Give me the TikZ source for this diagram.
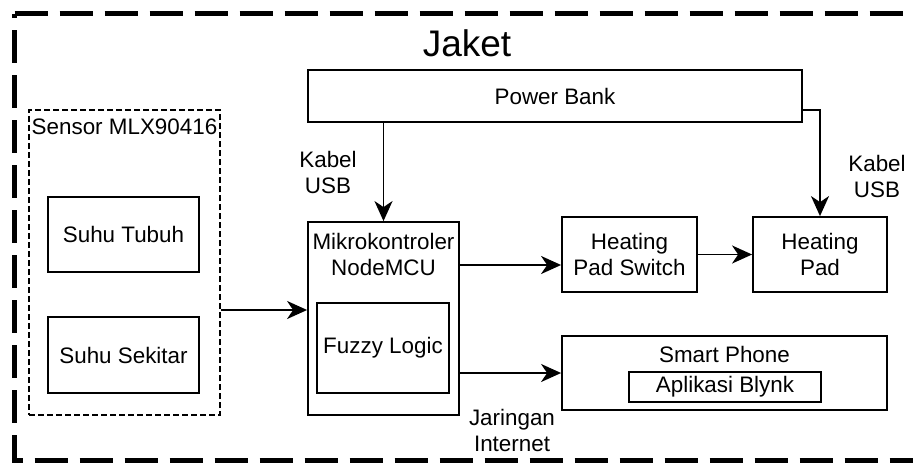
\documentclass[tikz,border=0pt]{standalone}
\usepackage{fontspec}
\setmainfont{Liberation Sans}
\usetikzlibrary{arrows.meta}
\begin{document}
\begin{tikzpicture}[x=1pt,y=-1pt,
    font=\fontsize{22.4}{26}\selectfont,
    blok/.style={draw,line width=1.8pt,inner sep=0pt,align=center},
    grup/.style={draw,line width=1.5pt,dash pattern=on 6pt off 3pt,inner sep=0pt},
    arr/.style={-{Stealth[length=20pt,width=18pt,inset=6pt]},line width=1.8pt},
    bingkai/.style={line width=5pt,dash pattern=on 33pt off 12pt}]
      \useasboundingbox (0,0) rectangle (913,463);
      \clip (0,0) rectangle (913,463);
      % frame of the jacket
      \draw[bingkai] (14.5,13.5) -- (940,13.5);
      \draw[bingkai,dash phase=28.5pt] (14.5,13.5) -- (14.5,460) -- (940,460);
      \node[font=\fontsize{37}{44}\selectfont] (jaket) at (467,43) {Jaket};
      % blocks
      \node[blok,minimum width=494pt,minimum height=52pt] (powerbank) at (555,96) {Power Bank};
      \node[grup,minimum width=191pt,minimum height=305pt] (sensor) at (124.5,262.5) {};
      \node (sensortitle) at (124.5,127) {Sensor MLX90416};
      \node[blok,minimum width=151pt,minimum height=75pt] (tubuh) at (123.5,234.5) {Suhu Tubuh};
      \node[blok,minimum width=151pt,minimum height=76pt] (sekitar) at (123.5,355) {Suhu Sekitar};
      \node[blok,minimum width=151pt,minimum height=193pt] (mcu) at (383.5,318.5) {};
      \node[align=center] (mcutitle) at (383.5,254) {Mikrokontroler\\NodeMCU};
      \node[blok,minimum width=132pt,minimum height=90pt] (fuzzy) at (383,348) {Fuzzy Logic};
      \node[blok,minimum width=135pt,minimum height=75pt] (switch) at (629.5,254.5) {Heating\\Pad Switch};
      \node[blok,minimum width=134pt,minimum height=75pt] (pad) at (820,254.5) {Heating\\Pad};
      \node[blok,minimum width=325pt,minimum height=74pt] (phone) at (724.5,373) {};
      \node (phonetitle) at (724.5,354) {Smart Phone};
      \node[blok,minimum width=192pt,minimum height=30pt] (blynk) at (725,387) {Aplikasi Blynk};
      % cable labels
      \node[align=center] (usbmcu) at (328,172) {Kabel\\USB};
      \node[align=center] (usbpad) at (877,176) {Kabel\\USB};
      \node[align=center] (internet) at (512,430) {Jaringan\\Internet};
      % connections
      \coordinate (pbout) at ([yshift=-14pt]powerbank.east);
      \coordinate (mcuin) at ([yshift=-47.5pt]sensor.east -| mcu.west);
      \coordinate (swin) at ([yshift=-10.5pt]switch.west);
      \begin{scope}[arr]
        \draw (powerbank.south -| mcu.north) -- (mcu.north);
        \draw (pbout) -| (pad.north);
        \draw (sensor.east |- mcuin) -- (mcuin);
        \draw (mcu.east |- swin) -- (swin);
        \draw (switch.east |- pad.west) -- (pad.west);
        \draw (mcu.east |- phone.west) -- (phone.west);
      \end{scope}
    \end{tikzpicture}
\end{document}
